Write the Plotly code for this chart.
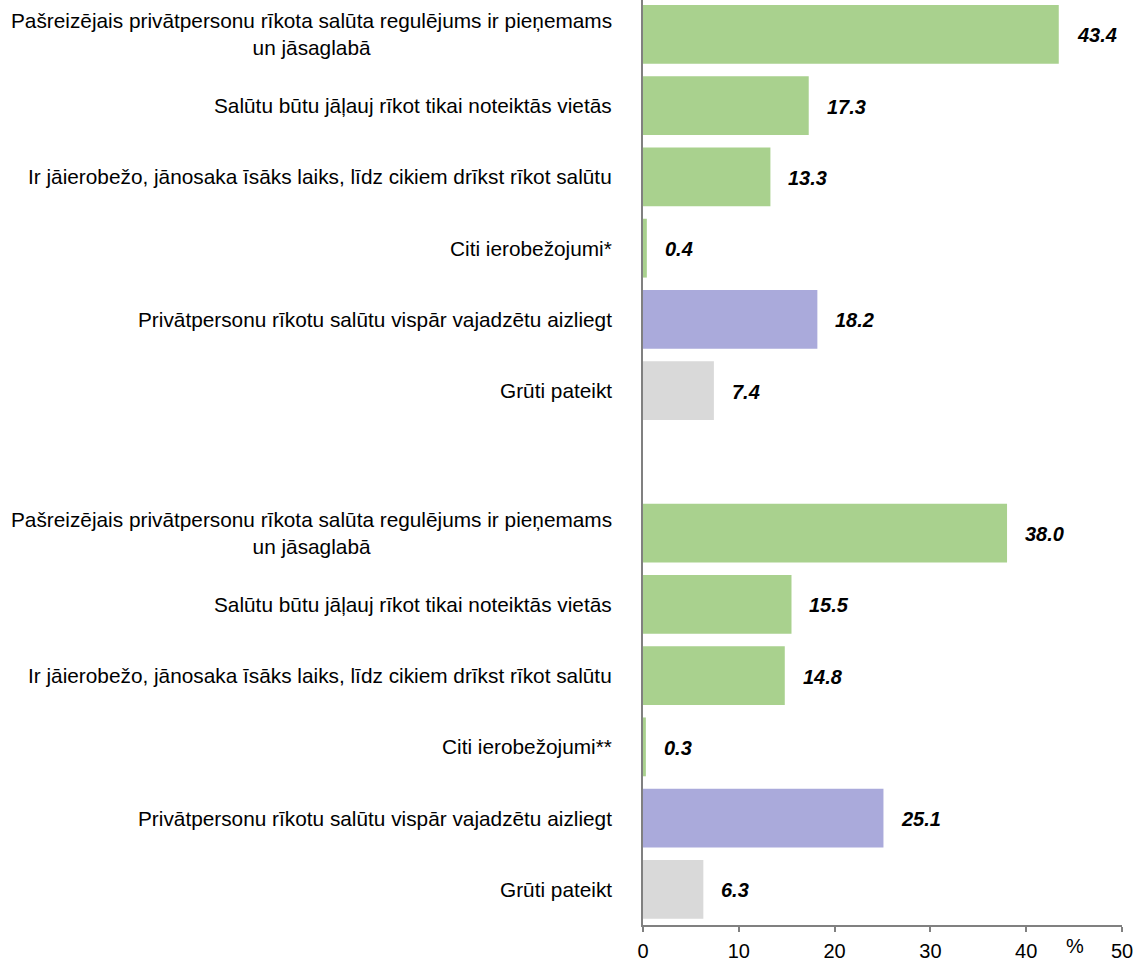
import plotly.graph_objects as go

labels_top = [
    "Pašreizējais privātpersonu rīkota salūta regulējums ir pieņemams<br>un jāsaglabā",
    "Salūtu būtu jāļauj rīkot tikai noteiktās vietās",
    "Ir jāierobežo, jānosaka īsāks laiks, līdz cikiem drīkst rīkot salūtu",
    "Citi ierobežojumi*",
    "Privātpersonu rīkotu salūtu vispār vajadzētu aizliegt",
    "Grūti pateikt",
]
labels_bottom = [
    "Pašreizējais privātpersonu rīkota salūta regulējums ir pieņemams<br>un jāsaglabā",
    "Salūtu būtu jāļauj rīkot tikai noteiktās vietās",
    "Ir jāierobežo, jānosaka īsāks laiks, līdz cikiem drīkst rīkot salūtu",
    "Citi ierobežojumi**",
    "Privātpersonu rīkotu salūtu vispār vajadzētu aizliegt",
    "Grūti pateikt",
]
values_top = [43.4, 17.3, 13.3, 0.4, 18.2, 7.4]
values_bottom = [38.0, 15.5, 14.8, 0.3, 25.1, 6.3]
bar_colors = ["#a9d18e", "#a9d18e", "#a9d18e", "#a9d18e", "#aaaadb", "#d9d9d9"]
x_ticks = [0, 10, 20, 30, 40, 50]

labels = labels_top + labels_bottom
values = values_top + values_bottom
colors = bar_colors + bar_colors
positions = list(range(0, 6)) + list(range(7, 13))

FONT = "Liberation Sans, Arial"

fig = go.Figure()
fig.add_trace(go.Bar(
    x=values, y=positions, orientation="h",
    marker=dict(color=colors, line=dict(width=0)),
    width=0.826, hoverinfo="skip",
))

annotations = []
for p, lab, v in zip(positions, labels, values):
    annotations.append(dict(
        x=0, xref="paper", y=p, yref="y", text=lab, showarrow=False,
        xanchor="right", yanchor="middle", align="center", xshift=-29,
        font=dict(family=FONT, size=20.8, color="#000000"),
    ))
    annotations.append(dict(
        x=v, xref="x", y=p, yref="y", text=f"<b><i>{v:.1f}</i></b>", showarrow=False,
        xanchor="left", yanchor="middle", xshift=16, yshift=-1,
        font=dict(family=FONT, size=20, color="#000000"),
    ))
annotations.append(dict(
    x=45.1, xref="x", y=0, yref="paper", text="%", showarrow=False,
    xanchor="center", yanchor="top", yshift=-8,
    font=dict(family=FONT, size=20, color="#000000"),
))

fig.update_layout(
    width=1141, height=962,
    margin=dict(l=643, r=19, t=0, b=35),
    paper_bgcolor="white", plot_bgcolor="white",
    showlegend=False,
    annotations=annotations,
    xaxis=dict(
        range=[0, 50], tickvals=x_ticks, ticktext=[str(t) for t in x_ticks],
        showgrid=False, zeroline=False, showline=True, linecolor="#808080", linewidth=1.5,
        ticks="outside", ticklen=5, tickcolor="#808080", tickwidth=1.5,
        ticklabelstandoff=2,
        tickfont=dict(family=FONT, size=20, color="#000000"),
    ),
    yaxis=dict(
        range=[12.5, -0.483], showticklabels=False, showgrid=False, zeroline=False,
        showline=True, linecolor="#808080", linewidth=1.5, ticks="",
    ),
)

fig.write_html(
    "out.html",
    config={"displayModeBar": False},
    post_script="document.body.style.margin='0px';document.body.style.overflow='hidden';",
)
